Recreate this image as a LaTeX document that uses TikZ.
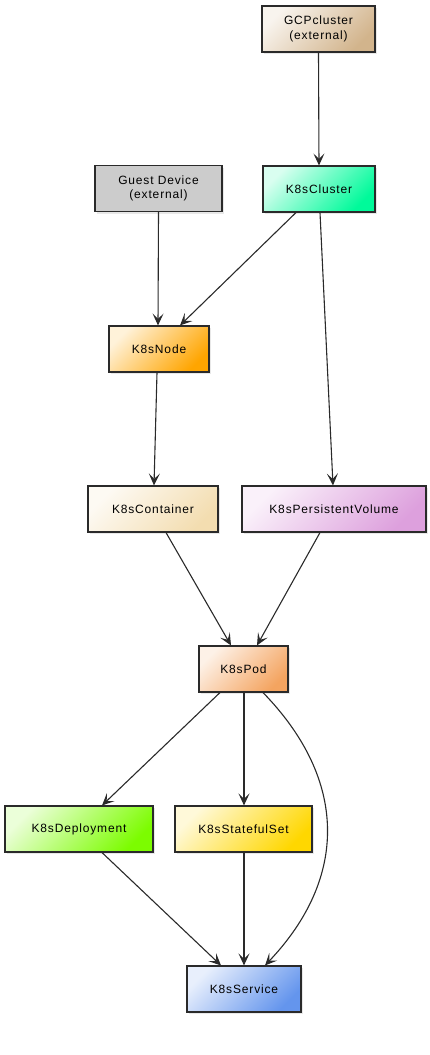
\documentclass[tikz,border=0pt]{standalone}
\usepackage{fontspec}
\setmainfont{Liberation Sans}[LetterSpace=7]
\usetikzlibrary{arrows.meta,shadows}
\definecolor{edgecol}{HTML}{2A2A2A}
\definecolor{cgcp}{HTML}{D2B48C}
\definecolor{cclu}{HTML}{00FA9A}
\definecolor{cguest}{HTML}{CCCCCC}
\definecolor{cnode}{HTML}{FFA500}
\definecolor{ccont}{HTML}{F3DDB0}
\definecolor{cpv}{HTML}{DDA0DD}
\definecolor{cpod}{HTML}{F4A460}
\definecolor{cdep}{HTML}{7CFC00}
\definecolor{csts}{HTML}{FFD700}
\definecolor{csvc}{HTML}{6495ED}
\tikzset{
  box/.style={draw=edgecol, line width=1.1pt, minimum height=46pt, inner sep=2pt,
    align=center, font=\fontsize{12}{14.5}\selectfont, text=black,
    drop shadow={opacity=0.18, shadow xshift=2pt, shadow yshift=-2pt}},
  grad/.style={box, top color=white!85!#1, bottom color=#1, shading angle=45},
  conn/.style={draw=edgecol, line width=1.1pt,
    -{Stealth[length=12pt,width=11pt,inset=5.5pt]}}
}
\begin{document}
\begin{tikzpicture}[x=1pt,y=-1pt]
\useasboundingbox (0,0) rectangle (430,1055);
\node[grad=cgcp, minimum width=113pt] (gcp) at (318.5,29) {GCPcluster\\(external)};
\node[grad=cclu, minimum width=112pt] (clu) at (319,189) {K8sCluster};
\node[box, fill=cguest, minimum width=127pt] (guest) at (158.5,188.5) {Guest Device\\(external)};
\node[grad=cnode, minimum width=100pt] (knode) at (159,349) {K8sNode};
\node[grad=ccont, minimum width=130pt] (cont) at (153,509) {K8sContainer};
\node[grad=cpv, minimum width=184pt] (pv) at (334,509) {K8sPersistentVolume};
\node[grad=cpod, minimum width=89pt] (pod) at (243.5,669) {K8sPod};
\node[grad=cdep, minimum width=148pt] (dep) at (79,829) {K8sDeployment};
\node[grad=csts, minimum width=137pt] (sts) at (243.5,829) {K8sStatefulSet};
\node[grad=csvc, minimum width=114pt] (svc) at (244,989) {K8sService};

\draw[conn] (gcp.south) -- (clu.north);
\draw[conn] ([xshift=-23pt]clu.south) -- ([xshift=21pt]knode.north);
\draw[conn] ([xshift=1pt]clu.south) -- ([xshift=-1pt]pv.north);
\draw[conn] (guest.south) -- ([xshift=-1pt]knode.north);
\draw[conn] ([xshift=-2pt]knode.south) -- ([xshift=1pt]cont.north);
\draw[conn] ([xshift=13pt]cont.south) -- ([xshift=-12.5pt]pod.north);
\draw[conn] ([xshift=-14pt]pv.south) -- ([xshift=13.5pt]pod.north);
\draw[conn] ([xshift=-23.5pt]pod.south) -- ([xshift=23pt]dep.north);
\draw[conn] ([xshift=0.5pt]pod.south) -- ([xshift=0.5pt]sts.north);
\draw[conn] ([xshift=19.5pt]pod.south) .. controls (348,780) and (348,878) .. ([xshift=21pt]svc.north);
\draw[conn] ([xshift=23pt]dep.south) -- ([xshift=-23pt]svc.north);
\draw[conn] ([xshift=0.5pt]sts.south) -- (svc.north);
\end{tikzpicture}
\end{document}
